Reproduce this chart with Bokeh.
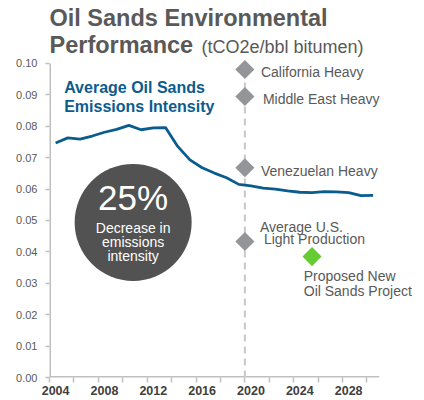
import math
from bokeh.plotting import figure
from bokeh.models import Label, FixedTicker, NumeralTickFormatter
from bokeh.embed import file_html
from bokeh.resources import INLINE

# ---- data ----
years = list(range(2004, 2031))
intensity = [0.0747, 0.0763, 0.0759, 0.0769, 0.0781, 0.0790, 0.0803, 0.0789, 0.0795,
             0.0796, 0.0736, 0.0693, 0.0668, 0.0651, 0.0636, 0.0615, 0.0610, 0.0603,
             0.0600, 0.0594, 0.0590, 0.0589, 0.0592, 0.0591, 0.0589, 0.0579, 0.0580]

bench_labels = [["California Heavy"], ["Middle East Heavy"], ["Venezuelan Heavy"],
                ["Average U.S.", "Light Production"]]
bench_values = [0.0981, 0.0895, 0.0668, 0.0433]
bench_year = 2019.5

proposed_labels = ["Proposed New", "Oil Sands Project"]
proposed_year = 2025
proposed_value = 0.0385

x_tick_years = [2004, 2008, 2012, 2016, 2020, 2024, 2028]
x_axis_span = (2003.5, 2030.5)
y_ticks = [0.00, 0.01, 0.02, 0.03, 0.04, 0.05, 0.06, 0.07, 0.08, 0.09, 0.10]

title_line1 = "Oil Sands Environmental"
title_line2 = "Performance"
title_units = "(tCO2e/bbl bitumen)"
series_label = ["Average Oil Sands", "Emissions Intensity"]
callout_big = "25%"
callout_lines = ["Decrease in", "emissions", "intensity"]

FONT = "Liberation Sans"
GRAY_TXT = "#595959"
BLUE = "#0b5c8e"
AXIS = "#bfbfbf"

# frame spans the canvas (except left/bottom axes) so that texts are not clipped
p = figure(width=424, height=400, x_range=(2003.5, 2034.21), y_range=(0, 0.12006),
           output_backend="svg", toolbar_location=None,
           min_border_left=49, min_border_right=0, min_border_top=0, min_border_bottom=23)
p.outline_line_color = None
p.grid.visible = False
p.background_fill_color = "white"
p.border_fill_color = "white"

# x axis
xa = p.xaxis[0]
xa.ticker = FixedTicker(ticks=x_tick_years,
                        minor_ticks=[x_axis_span[0] + 2 * k for k in range(14)])
xa.major_tick_out = 0
xa.major_tick_in = 0
xa.minor_tick_out = 5
xa.minor_tick_in = 0
xa.axis_line_color = None
xa.minor_tick_line_color = AXIS
xa.minor_tick_line_width = 1.5
xa.major_label_text_font = FONT
xa.major_label_text_font_style = "bold"
xa.major_label_text_font_size = "12.5px"
xa.major_label_text_color = "#404040"
xa.major_label_standoff = 3

# y axis
ya = p.yaxis[0]
ya.ticker = FixedTicker(ticks=y_ticks)
ya.formatter = NumeralTickFormatter(format="0.00")
ya.major_tick_out = 4
ya.major_tick_in = 0
ya.minor_tick_line_color = None
ya.axis_line_color = None
ya.major_tick_line_color = AXIS
ya.major_tick_line_width = 1.5
ya.major_label_text_font = FONT
ya.major_label_text_font_size = "11px"
ya.major_label_text_color = GRAY_TXT
ya.major_label_standoff = 8

# axis lines (only over the data extent)
p.segment(x0=[x_axis_span[0]], y0=[0], x1=[x_axis_span[1]], y1=[0],
          line_color=AXIS, line_width=3)
p.segment(x0=[x_axis_span[0]], y0=[0], x1=[x_axis_span[0]], y1=[y_ticks[-1]],
          line_color=AXIS, line_width=3)

# dashed reference line
p.segment(x0=[bench_year], y0=[0], x1=[bench_year], y1=[y_ticks[-1]],
          line_color="#c8c8c8", line_dash="7 5", line_width=2)

# main series
p.line(years, intensity, line_color=BLUE, line_width=2.8)

# benchmark diamonds
p.scatter(x=[bench_year] * len(bench_values), y=bench_values, marker="square",
          size=13.5, angle=math.pi / 4, fill_color="#939598", line_color=None)
p.scatter(x=[proposed_year], y=[proposed_value], marker="square", size=13.5,
          angle=math.pi / 4, fill_color="#66cc33", line_color=None)

# callout circle
cx, cy = 2010.35, 0.0494
p.scatter(x=[cx], y=[cy], marker="circle", size=117, fill_color="#525252", line_color=None)


def lab(x, y, text, size, color, style="normal", align="left", xo=0, yo=0):
    p.add_layout(Label(x=x, y=y, text=text, x_offset=xo, y_offset=yo,
                       text_font=FONT, text_font_size=size, text_color=color,
                       text_font_style=style, text_align=align,
                       text_baseline="middle"))


# title
lab(2003.5, 0.11443, title_line1, "23.5px", GRAY_TXT, "bold")
lab(2003.5, 0.10599, title_line2, "23.5px", GRAY_TXT, "bold")
lab(2015.95, 0.10529, title_units, "18px", GRAY_TXT)

# series label
lab(2004.7, 0.09229, series_label[0], "16px", BLUE, "bold")
lab(2004.7, 0.08637, series_label[1], "16px", BLUE, "bold")

# callout texts
lab(cx, 0.05732, callout_big, "35px", "white", align="center")
for i, t in enumerate(callout_lines):
    lab(cx, 0.04761 - i * 0.00446, t, "14px", "white", align="center")

# benchmark labels (offsets in px relative to marker)
bench_offsets = [[(16, -2.7)], [(18, -2.7)], [(16, -3.7)], [(15, 15), (19, 2.3)]]
for lines, val, offs in zip(bench_labels, bench_values, bench_offsets):
    for t, (xo, yo) in zip(lines, offs):
        lab(bench_year, val, t, "14px", GRAY_TXT, xo=xo, yo=yo)

for i, t in enumerate(proposed_labels):
    lab(proposed_year, proposed_value, t, "14px", GRAY_TXT, xo=-8.3, yo=-19.8 - 15 * i)

open("out.html", "w").write(file_html(p, INLINE))
